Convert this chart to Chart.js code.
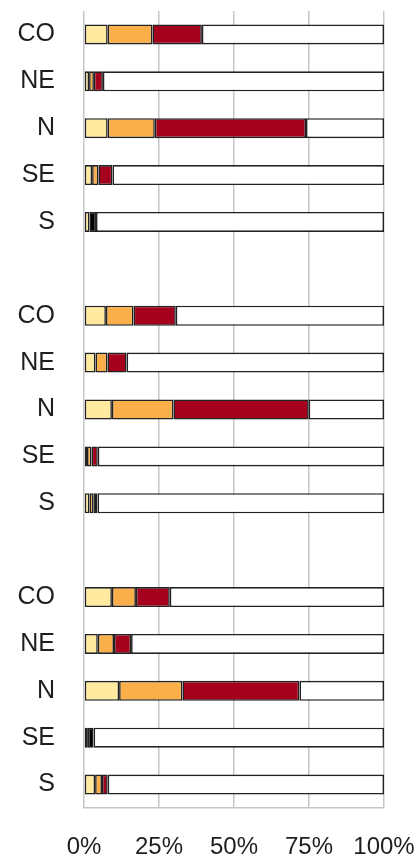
<!DOCTYPE html>
<html>
<head>
<meta charset="utf-8">
<script src="https://cdn.jsdelivr.net/npm/chart.js@4/dist/chart.umd.min.js"></script>
<style>
  html, body { margin: 0; padding: 0; background: #ffffff; overflow: hidden; }
  #wrap { width: 416px; height: 857px; position: relative; }
</style>
</head>
<body>
<div id="wrap"><canvas id="c"></canvas></div>
<script>
const categories = ['CO','NE','N','SE','S','', 'CO','NE','N','SE','S','', 'CO','NE','N','SE','S'];
const yellowValues = [7.9, 1.7, 7.9, 2.7, 1.8, null, 7.3, 3.8, 9.3, 1.0, 1.8, null, 9.3, 4.6, 11.7, 1.3, 3.7];
const orangeValues = [14.9, 1.6, 15.7, 2.1, 0, null, 9.2, 4.0, 20.5, 1.5, 1.3, null, 8.0, 5.4, 21.1, 0, 2.3];
const redValues    = [16.5, 3.0, 50.4, 4.7, 0, null, 14.1, 6.4, 45.1, 2.1, 0, null, 11.3, 5.7, 39.0, 0, 1.9];
const blackValues  = [0, 0, 0, 0, 2.2, null, 0, 0, 0, 0, 1.4, null, 0, 0, 0, 1.9, 0];
const whiteValues  = [60.7, 93.7, 26.0, 90.5, 96.0, null, 69.4, 85.8, 25.1, 95.4, 95.5, null, 71.4, 84.3, 28.2, 96.8, 92.1];
const xTicks = [0, 25, 50, 75, 100];

const seriesColors = ['#FFEA9F', '#FBAF4B', '#A6001F', '#000000', '#FFFFFF'];
const seriesData = [yellowValues, orangeValues, redValues, blackValues, whiteValues];

const datasets = seriesData.map((d, i) => ({
  data: d,
  backgroundColor: seriesColors[i],
  borderColor: '#222222',
  borderWidth: 1.6,
  borderSkipped: false,
  inflateAmount: 0,
  barThickness: 20
}));

new Chart(document.getElementById('c'), {
  type: 'bar',
  data: { labels: categories, datasets },
  options: {
    indexAxis: 'y',
    responsive: true,
    maintainAspectRatio: false,
    animation: false,
    layout: { padding: { left: 17, right: 32, top: 11, bottom: 0 } },
    plugins: { legend: { display: false }, tooltip: { enabled: false } },
    scales: {
      x: {
        stacked: true,
        min: 0,
        max: 100,
        afterBuildTicks: (s) => { s.ticks = xTicks.map(v => ({ value: v })); },
        afterFit: (s) => { s.height = 49; s.paddingLeft = 0; s.paddingRight = 0; s.paddingTop = 0; s.paddingBottom = 0; },
        ticks: {
          callback: (v) => v + '%',
          color: '#1e1e1e',
          padding: 26,
          maxRotation: 0,
          font: { family: 'Liberation Sans', size: 24, lineHeight: 1.1 }
        },
        grid: { color: '#c6c6c6', lineWidth: 1.5, drawTicks: false },
        border: { display: true, color: '#c6c6c6', width: 1.5 }
      },
      y: {
        stacked: true,
        afterFit: (s) => { s.width = 67; s.paddingTop = 0; s.paddingBottom = 0; s.paddingLeft = 0; s.paddingRight = 0; },
        ticks: {
          color: '#1e1e1e',
          padding: 29,
          autoSkip: false,
          font: { family: 'Liberation Sans', size: 25 }
        },
        grid: { display: false, drawTicks: false },
        border: { display: false }
      }
    }
  }
});
</script>
</body>
</html>
